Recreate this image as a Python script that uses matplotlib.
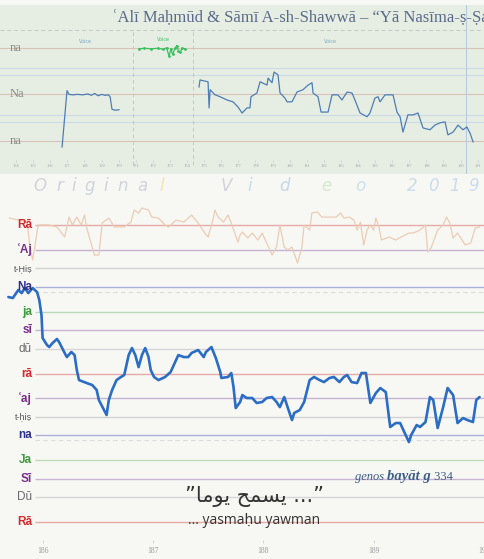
import matplotlib
matplotlib.use('Agg')
import matplotlib.pyplot as plt

# upper panel: analysis overview (time in s, pitch in arbitrary steps: na=0, Na=100, na=200)
top_ticks = list(range(164, 192))
top_main = [0, 100, 200]
top_main_names = ['na', 'Na', 'na']
top_minor = [157, 142, 56, 41]
top_dashed = 239
section_bounds = [170.84, 174.35]
cursor_t = 190.32

tA = [166.69, 166.98, 167.10, 167.30, 167.60, 167.90, 168.20, 168.40, 168.60,
      168.80, 169.00, 169.20, 169.40, 169.50, 169.61, 169.80, 170.02]
uA = [-13, 108, 100, 99, 100, 99, 101, 98, 102, 97, 100, 98, 99, 95, 68, 66, 67]

tG = [171.19, 171.50, 171.90, 172.30, 172.60, 172.80, 172.95, 173.05, 173.15,
      173.30, 173.40, 173.50, 173.60, 173.70, 173.88]
uG = [198, 199, 198, 199, 197, 200, 182, 198, 186, 199, 205, 193, 190, 199, 198]

tB = [174.70, 174.76, 175.23, 175.29, 175.35, 175.64, 175.93, 176.34, 176.69, 176.98,
      177.22, 177.51, 177.68, 177.74, 178.09, 178.27, 178.68, 178.74, 178.97, 179.09,
      179.32, 179.44, 179.73, 179.85, 180.14, 180.43, 180.78, 181.08, 181.31, 181.37,
      181.66, 181.84, 182.25, 182.48, 182.83, 183.06, 183.36, 183.65, 183.82, 184.12,
      184.53, 184.70, 184.99, 185.17, 185.29, 185.58, 185.75, 186.05, 186.28, 186.46,
      186.63, 186.92, 187.22, 187.51, 187.80, 188.21, 188.50, 188.80, 189.09, 189.26,
      189.56, 189.85, 190.14, 190.37, 190.55, 190.73]
uB = [116, 131, 127, 71, 110, 99, 95, 88, 84, 73,
      60, 71, 71, 95, 103, 127, 120, 135, 125, 148,
      142, 103, 92, 84, 84, 105, 110, 120, 125, 103,
      95, 62, 62, 99, 99, 88, 105, 103, 88, 60,
      52, 60, 92, 95, 84, 99, 99, 99, 62, 52,
      19, 56, 56, 60, 28, 24, 34, 39, 41, 13,
      19, 34, 24, 30, 17, -2]

voice_labels = [(168.03, 209, '#7fa6c8'), (172.6, 213, '#3cc060'), (182.36, 209, '#7fa6c8')]

# lower panel: bayat degrees in cents above low Ra
deg_cents = [0, 200, 350, 500, 700, 850, 1000, 1200, 1400, 1550, 1700, 1900, 2050, 2200, 2400]
deg_names = ['Rā', 'Dū', 'Sī', 'Ja', 'na', 't-ḥiṣ', 'ʿaj', 'rā', 'dū', 'sī', 'ja',
             'Na', 't-Ḥiṣ', 'ʿAj', 'Rā']
deg_kind = ['r', 'd', 's', 'j', 'n', 't', 'a', 'r', 'd', 's', 'j', 'n', 't', 'a', 'r']
dashed_cents = [660, 1860]
bottom_ticks = [186, 187, 188, 189, 190]

t_org = [185.70, 185.86, 185.88, 185.91, 185.96, 186.06, 186.13, 186.20, 186.24, 186.27,
         186.31, 186.35, 186.38, 186.40, 186.47, 186.51, 186.54, 186.60, 186.65, 186.74,
         186.80, 186.83, 186.87, 186.90, 186.96, 186.99, 187.05, 187.11, 187.14, 187.21,
         187.28, 187.32, 187.35, 187.41, 187.47, 187.50, 187.55, 187.56, 187.59, 187.64,
         187.68, 187.71, 187.77, 187.79, 187.81, 187.86, 187.90, 187.95, 187.99, 188.08,
         188.12, 188.15, 188.19, 188.22, 188.26, 188.31, 188.35, 188.37, 188.42, 188.44,
         188.49, 188.53, 188.60, 188.66, 188.70, 188.73, 188.78, 188.82, 188.85, 188.88,
         188.91, 188.94, 188.97, 189.00, 189.02, 189.05, 189.07, 189.14, 189.20, 189.25,
         189.32, 189.36, 189.42, 189.47, 189.49, 189.52, 189.58, 189.63, 189.66, 189.69,
         189.72, 189.76, 189.83, 189.88, 189.92, 189.96]
c_org = [2456, 2424, 2262, 2117, 2400, 2400, 2384, 2303, 2464, 2400,
         2464, 2400, 2481, 2376, 2157, 2157, 2416, 2456, 2384, 2384,
         2424, 2521, 2497, 2537, 2521, 2464, 2456, 2400, 2384, 2440,
         2424, 2456, 2481, 2416, 2335, 2303, 2464, 2521, 2464, 2424,
         2481, 2416, 2262, 2319, 2343, 2295, 2335, 2279, 2335, 2157,
         2222, 2400, 2222, 2198, 2222, 2093, 2222, 2400, 2359, 2497,
         2505, 2464, 2464, 2464, 2497, 2456, 2464, 2440, 2359, 2424,
         2238, 2359, 2400, 2359, 2456, 2376, 2279, 2303, 2279, 2303,
         2335, 2335, 2359, 2400, 2182, 2214, 2359, 2400, 2464, 2416,
         2295, 2335, 2238, 2254, 2376, 2384]

t_voc = [185.69, 185.73, 185.78, 185.81, 185.84, 185.87, 185.91, 185.95, 185.97, 185.99,
         186.00, 186.04, 186.06, 186.09, 186.13, 186.15, 186.20, 186.22, 186.26, 186.29,
         186.31, 186.33, 186.40, 186.45, 186.49, 186.51, 186.58, 186.60, 186.63, 186.67,
         186.71, 186.74, 186.78, 186.81, 186.84, 186.87, 186.90, 186.93, 186.96, 186.98,
         187.01, 187.05, 187.11, 187.16, 187.23, 187.28, 187.32, 187.35, 187.41, 187.46,
         187.48, 187.53, 187.57, 187.61, 187.62, 187.68, 187.71, 187.73, 187.75, 187.79,
         187.81, 187.85, 187.90, 187.94, 187.99, 188.03, 188.08, 188.12, 188.15, 188.19,
         188.22, 188.26, 188.28, 188.33, 188.37, 188.42, 188.46, 188.51, 188.55, 188.60,
         188.64, 188.69, 188.73, 188.76, 188.80, 188.85, 188.89, 188.93, 188.97, 189.02,
         189.06, 189.11, 189.15, 189.20, 189.24, 189.29, 189.32, 189.34, 189.39, 189.42,
         189.47, 189.51, 189.54, 189.58, 189.63, 189.67, 189.72, 189.76, 189.81, 189.85,
         189.90, 189.93, 189.96]
c_voc = [1818, 1810, 1875, 1850, 1891, 1850, 1891, 1858, 1794, 1673,
         1487, 1430, 1414, 1446, 1479, 1454, 1366, 1333, 1374, 1349,
         1228, 1147, 1123, 1107, 1067, 986, 865, 986, 1067, 1147,
         1172, 1188, 1349, 1406, 1349, 1252, 1349, 1406, 1333, 1228,
         1172, 1147, 1172, 1212, 1349, 1333, 1333, 1366, 1390, 1333,
         1374, 1414, 1325, 1212, 1164, 1172, 1204, 1091, 921, 970,
         1026, 1002, 1002, 962, 970, 1002, 1010, 970, 929, 1010,
         929, 824, 881, 905, 970, 1147, 1172, 1147, 1131, 1164,
         1172, 1131, 1172, 1188, 1131, 1123, 1204, 1204, 962, 1042,
         1083, 1050, 768, 800, 800, 703, 646, 703, 784, 768,
         808, 1010, 986, 760, 929, 1083, 1026, 800, 840, 824,
         808, 986, 1010]

label_col = {'r': '#d22b2b', 'd': '#6a6a6a', 's': '#7a2d8c', 'j': '#3e9a3e',
             'n': '#2b2f8a', 't': '#555555', 'a': '#7a2d8c'}
line_col = {'r': '#e6aaa6', 'd': '#d6d6d6', 's': '#c9b5d3', 'j': '#bcdab6',
            'n': '#aeb0dc', 't': '#d2d2d2', 'a': '#c6b2d2'}

SANS = ['Liberation Sans', 'DejaVu Sans']
SERIF = ['Liberation Serif', 'DejaVu Serif']

fig = plt.figure(figsize=(4.84, 5.59), dpi=100, facecolor='#f7f8f4')
W, H = 484.0, 559.0

# ---- upper panel ----
ax1 = fig.add_axes([0, 1 - 174 / H, 1, 169 / H])
ax1.set_facecolor('#e6eee3')
ax1.set_xlim(163.06, 191.37)
ax1.set_ylim(-71, 292)
ax1.set_xticks([])
ax1.set_yticks([])
for s in ax1.spines.values():
    s.set_visible(False)

ax1.axhline(top_dashed, color='#c4c8c2', lw=0.7, ls=(0, (4, 3)))
for u in top_main:
    ax1.axhline(u, color='#d8c2b6', lw=0.8)
for u in top_minor:
    ax1.axhline(u, color='#cbdbe6', lw=0.8)
for t in section_bounds:
    ax1.vlines(t, -52, top_dashed, color='#c4c8c2', lw=0.7, ls=(0, (4, 3)))
ax1.axvline(cursor_t, color='#b6cbe0', lw=0.8)

for u, name in zip(top_main, top_main_names):
    ax1.text(163.65, u, name, fontsize=9, color='#8a8a86', family=SERIF,
             ha='left', va='center', zorder=5)

ax1.plot(tA, uA, color='#4d7db5', lw=0.9)
ax1.plot(tB, uB, color='#4d7db5', lw=0.9)
ax1.plot(tG, uG, color='#3cc060', lw=0.9, marker='.', ms=2)
for t, u, c in voice_labels:
    ax1.text(t, u, 'Voice', fontsize=3.5, color=c, ha='center', va='bottom')

for t in top_ticks:
    ax1.text(t, -54, str(t), fontsize=3.2, color='#9aa4a8', family=SERIF,
             ha='center', va='center')
    ax1.vlines(t, -45, -41, color='#c0c8c8', lw=0.5)

fig.text(112 / W, 1 - 18 / H,
         'ʿAlī Maḥmūd & Sāmī A-sh-Shawwā – “Yā Nasīma-ṣ-Ṣa',
         fontsize=12, color='#5b6a8a', family=SERIF, ha='left', va='center')

# ---- faint caption between panels ----
caption = [('O', 40, '#d0d3dd'), ('r', 60, '#d0d3dd'), ('i', 74, '#d0d3dd'),
           ('g', 90, '#d0d3dd'), ('i', 106, '#d0d3dd'), ('n', 123, '#d0d3dd'),
           ('a', 142, '#d0d3dd'), ('l', 162, '#f2e4ac'), ('V', 226, '#d0d2da'),
           ('i', 250, '#c8dbee'), ('d', 284, '#c6d7e8'), ('e', 326, '#d4e8cf'),
           ('o', 360, '#cde0ee'), ('2', 412, '#cbdcec'), ('0', 433, '#cbdcec'),
           ('1', 454, '#cbdcec'), ('9', 474, '#cbdcec')]
for ch, x, c in caption:
    fig.text(x / W, 1 - 186 / H, ch, fontsize=12, color=c, style='italic',
             family='DejaVu Sans', ha='center', va='center')

# ---- lower panel ----
ax2 = fig.add_axes([0, 1 - 540 / H, 1, 365 / H])
ax2.set_facecolor('none')
ax2.set_xlim(185.614, 189.962)
ax2.set_ylim(-145, 2804)
for s in ax2.spines.values():
    s.set_visible(False)
ax2.set_yticks([])
ax2.set_xticks(bottom_ticks)
ax2.set_xticklabels([str(t) for t in bottom_ticks])
ax2.tick_params(axis='x', length=2, width=0.5, color='#c8c8c8', pad=3,
                labelsize=5.5, labelcolor='#9a9a9a')
for lab in ax2.get_xticklabels():
    lab.set_family(SERIF)

for c, name, k in zip(deg_cents, deg_names, deg_kind):
    ax2.hlines(c, 185.93, 190.0, color=line_col[k], lw=1.0, zorder=1)
    small = k in ('t',)
    ax2.text(185.905, c, name, fontsize=6.5 if small else 8.5,
             fontweight='normal' if k in ('t', 'd') else 'bold',
             color=label_col[k], family=SANS, ha='right', va='center', zorder=6)
for c in dashed_cents:
    ax2.hlines(c, 185.93, 190.0, color='#dcdcdc', lw=0.8, ls=(0, (4, 3)), zorder=1)

ax2.plot(t_org, c_org, color='#ecccb4', lw=0.9, zorder=2)
ax2.plot(t_voc, c_voc, color='#2b6cc4', lw=1.9, zorder=3,
         solid_joinstyle='round', solid_capstyle='round')

g1 = ax2.text(188.83, 339, 'genos ', fontsize=9, style='italic', color='#3e5e86',
              family=SERIF, ha='left', va='baseline', zorder=6)
g2 = ax2.annotate('bayāt g', xy=(1, 0), xycoords=g1, fontsize=10.5, style='italic',
                  fontweight='bold', color='#3e5e86', family=SERIF,
                  ha='left', va='bottom', zorder=6)
ax2.annotate(' 334', xy=(1, 0), xycoords=g2, fontsize=9, color='#3e5e86',
             family=SERIF, ha='left', va='bottom', zorder=6)

# Arabic lyric in presentation forms, visual order
arabic = '”' + '\uFE8E\uFEE3\uFEEE\uFEF3' + ' ' + '\uFEA2\uFEE4\uFEB4\uFEF3' + ' ...”'
ax2.text(187.92, 205, arabic, fontsize=15, color='#333333', family='DejaVu Sans',
         ha='center', va='center', zorder=6)
ax2.text(187.92, 16, '... yasmaḥu yawman', fontsize=10, color='#333333',
         family=['Open Sans', 'DejaVu Sans'], ha='center', va='center', zorder=6)

fig.savefig('out.png', dpi=100, facecolor=fig.get_facecolor())
